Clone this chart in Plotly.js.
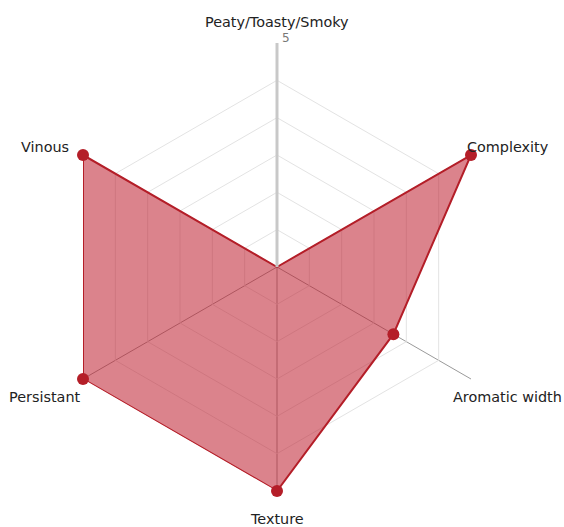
<!DOCTYPE html>
<html><head><meta charset="utf-8">
<script src="https://cdn.plot.ly/plotly-3.0.1.min.js"></script>
<style>html,body{margin:0;padding:0;background:#fff}</style>
</head><body>
<div id="chart" style="width:564px;height:527px"></div>
<script>
const categories = ["Peaty/Toasty/Smoky", "Complexity", "Aromatic width", "Texture", "Persistant", "Vinous"];
const values = [0, 5, 3, 5, 5, 5];
const radialTickVals = [5/6, 10/6, 15/6, 20/6, 25/6, 5];
const radialMaxLabel = "5";

const W = 564, H = 527;
const M = {l: 53, r: 63, t: 43, b: 36};
const plotW = W - M.l - M.r, plotH = H - M.t - M.b;
// label centres in pixels (x, y)
const labelPos = [[277, 22], [508, 147], [507, 397], [277, 519], [45, 397], [45, 147]];
const px2paper = (p) => ({x: (p[0] - M.l) / plotW, y: (H - M.b - p[1]) / plotH});

const trace = {
  type: "scatterpolar",
  r: values.concat([values[0]]),
  theta: categories.concat([categories[0]]),
  mode: "lines+markers",
  fill: "toself",
  fillcolor: "rgba(190,30,45,0.55)",
  line: {color: "#b41e28", width: 2},
  marker: {color: "#b41e28", size: 12},
  hoverinfo: "skip"
};

const annotations = categories.map((c, i) => {
  const p = px2paper(labelPos[i]);
  return {xref: "paper", yref: "paper", x: p.x, y: p.y, text: c, showarrow: false,
          xanchor: "center", yanchor: "middle", font: {size: 14.4, color: "#222"}};
});
const p5 = px2paper([286, 38]);
annotations.push({xref: "paper", yref: "paper", x: p5.x, y: p5.y, text: radialMaxLabel, showarrow: false,
  xanchor: "center", yanchor: "middle", font: {size: 12, color: "#777"}});

const layout = {
  width: W, height: H,
  margin: M,
  paper_bgcolor: "#fff",
  showlegend: false,
  font: {family: "DejaVu Sans", size: 13, color: "#333"},
  annotations: annotations,
  polar: {
    gridshape: "linear",
    bgcolor: "rgba(0,0,0,0)",
    domain: {x: [0, 1], y: [0, 1]},
    radialaxis: {
      range: [0, 5],
      angle: 90,
      tickvals: radialTickVals,
      showticklabels: false,
      showline: true,
      linecolor: "#c8c8c8",
      linewidth: 3,
      gridcolor: "#e3e3e3",
      gridwidth: 1,
      ticks: ""
    },
    angularaxis: {
      direction: "clockwise",
      rotation: 90,
      showline: false,
      showticklabels: false,
      gridcolor: "#9a9a9a",
      gridwidth: 1,
      ticks: ""
    }
  }
};

Plotly.newPlot("chart", [trace], layout, {displayModeBar: false, staticPlot: true});
</script>
</body></html>
